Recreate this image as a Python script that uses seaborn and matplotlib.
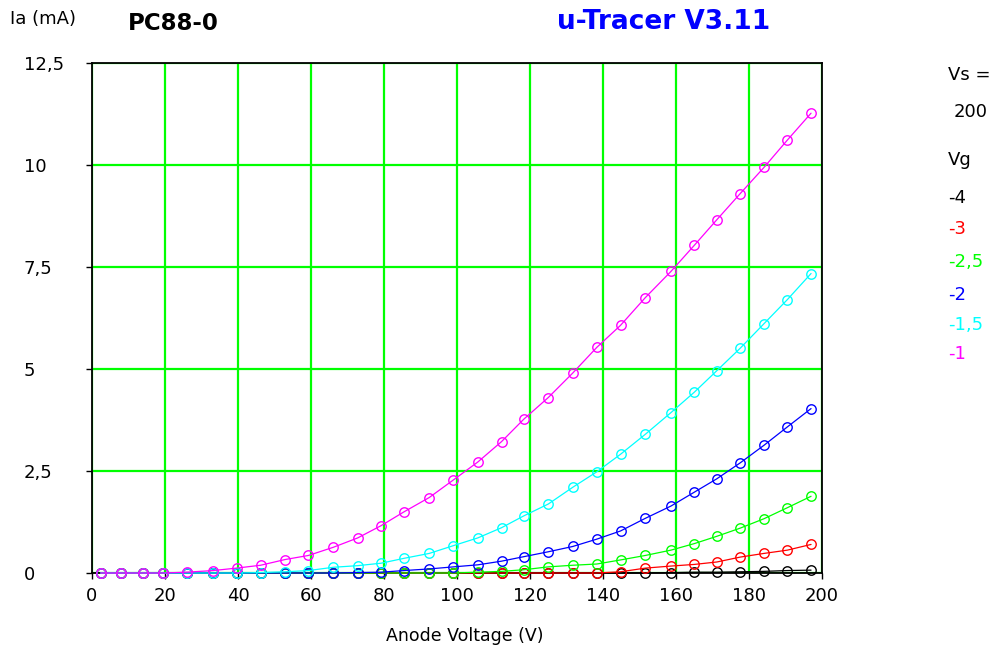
import matplotlib
matplotlib.use("Agg")
import matplotlib.pyplot as plt
import pandas as pd
import seaborn as sns

# Anode sweep voltages (V)
anode_v = [2.4, 7.9, 14.1, 19.4, 25.9, 33.2, 39.6, 46.2, 52.9, 59.3,
           66.1, 72.8, 79.2, 85.5, 92.4, 99.0, 105.7, 112.2, 118.3, 125.0,
           131.7, 138.3, 144.8, 151.6, 158.6, 165.0, 171.2, 177.6, 184.1, 190.5, 197.0]

# Anode current (mA) for each grid voltage
ia_vg_m4 = [0] * 24 + [0.01, 0.02, 0.02, 0.03, 0.04, 0.06, 0.07]
ia_vg_m3 = [0] * 22 + [0.03, 0.12, 0.17, 0.21, 0.27, 0.39, 0.48, 0.56, 0.70]
ia_vg_m25 = [0] * 16 + [0.02, 0.04, 0.08, 0.15, 0.19, 0.22, 0.32, 0.43, 0.56,
                        0.72, 0.90, 1.10, 1.33, 1.60, 1.88]
ia_vg_m2 = [0] * 11 + [0.01, 0.02, 0.06, 0.10, 0.15, 0.20, 0.29, 0.40, 0.52,
                       0.65, 0.83, 1.03, 1.34, 1.64, 1.98, 2.31, 2.70, 3.13, 3.58, 4.03]
ia_vg_m15 = [0] * 7 + [0.01, 0.03, 0.06, 0.14, 0.18, 0.24, 0.36, 0.48, 0.67,
                       0.86, 1.11, 1.40, 1.69, 2.10, 2.48, 2.91, 3.40, 3.93, 4.43,
                       4.96, 5.51, 6.11, 6.70, 7.34]
ia_vg_m1 = [0, 0, 0, 0, 0.02, 0.06, 0.12, 0.19, 0.33, 0.43,
            0.63, 0.86, 1.16, 1.50, 1.85, 2.28, 2.72, 3.22, 3.77, 4.30,
            4.90, 5.53, 6.07, 6.75, 7.39, 8.03, 8.66, 9.30, 9.94, 10.61, 11.27]

vg_labels = ["-4", "-3", "-2,5", "-2", "-1,5", "-1"]
vg_colors = ["#000000", "#FF0000", "#00FF00", "#0000FF", "#00FFFF", "#FF00FF"]
series = [ia_vg_m4, ia_vg_m3, ia_vg_m25, ia_vg_m2, ia_vg_m15, ia_vg_m1]

x_ticks = list(range(0, 201, 20))
y_ticks = [0, 2.5, 5, 7.5, 10, 12.5]
y_tick_labels = ["0", "2,5", "5", "7,5", "10", "12,5"]

frames = []
for label, vals in zip(vg_labels, series):
    frames.append(pd.DataFrame({"Va": anode_v, "Ia": vals, "Vg": label}))
df = pd.concat(frames, ignore_index=True)

sns.set_style("white")
plt.rcParams["font.family"] = ["DejaVu Sans"]
plt.rcParams["text.color"] = "black"
plt.rcParams["axes.labelcolor"] = "black"
plt.rcParams["xtick.color"] = "black"
plt.rcParams["ytick.color"] = "black"

W, H = 995, 655
fig = plt.figure(figsize=(W / 100, H / 100), dpi=100)
ax = fig.add_axes([92 / W, (H - 573) / H, 730 / W, 510 / H])

for label, color in zip(vg_labels, vg_colors):
    sub = df[df["Vg"] == label]
    sns.lineplot(data=sub, x="Va", y="Ia", ax=ax, color=color, linewidth=0.9,
                 marker="o", markersize=6.8, markerfacecolor="none",
                 mec=color, mew=1.0, sort=False, estimator=None,
                 clip_on=False, zorder=3, legend=False)

ax.set_xlim(0, 200)
ax.set_ylim(0, 12.5)
ax.set_xticks(x_ticks)
ax.set_xticklabels([str(t) for t in x_ticks])
ax.set_yticks(y_ticks)
ax.set_yticklabels(y_tick_labels)
for lab in ax.get_yticklabels():
    lab.set_horizontalalignment("left")

ax.grid(True, color="#00FF00", linewidth=1.6)
ax.set_axisbelow(True)
for sp in ax.spines.values():
    sp.set_color("black")
    sp.set_linewidth(1.3)
    sp.set_zorder(2.5)

ax.tick_params(axis="both", direction="out", length=4, width=1, color="black",
               labelsize=13, labelcolor="black")
ax.tick_params(axis="y", pad=45, left=True)
ax.tick_params(axis="x", pad=6, bottom=True)
ax.set_xlabel("")
ax.set_ylabel("")

# Titles and annotations
fig.text(10 / W, 1 - 19 / H, "Ia (mA)", fontsize=13, color="black",
         ha="left", va="center")
fig.text(128 / W, 1 - 23 / H, "PC88-0", fontsize=16.5, fontweight="bold",
         color="black", ha="left", va="center")
fig.text(557 / W, 1 - 22 / H, "u-Tracer V3.11", fontsize=19, fontweight="bold",
         color="#0000FF", ha="left", va="center")
fig.text(465 / W, 1 - 636 / H, "Anode Voltage (V)", fontsize=12.5,
         color="black", ha="center", va="center")

# Side legend: sweep settings and grid voltages
fig.text(948 / W, 1 - 75 / H, "Vs =", fontsize=13, color="black",
         ha="left", va="center")
fig.text(954 / W, 1 - 112 / H, "200", fontsize=13, color="black",
         ha="left", va="center")
fig.text(948 / W, 1 - 160 / H, "Vg", fontsize=13, color="black",
         ha="left", va="center")
legend_y = [198, 229, 262, 295, 325, 354]
for label, color, yy in zip(vg_labels, vg_colors, legend_y):
    fig.text(948 / W, 1 - yy / H, label, fontsize=13, color=color,
             ha="left", va="center")

fig.savefig("out.png", dpi=100, facecolor="white")
